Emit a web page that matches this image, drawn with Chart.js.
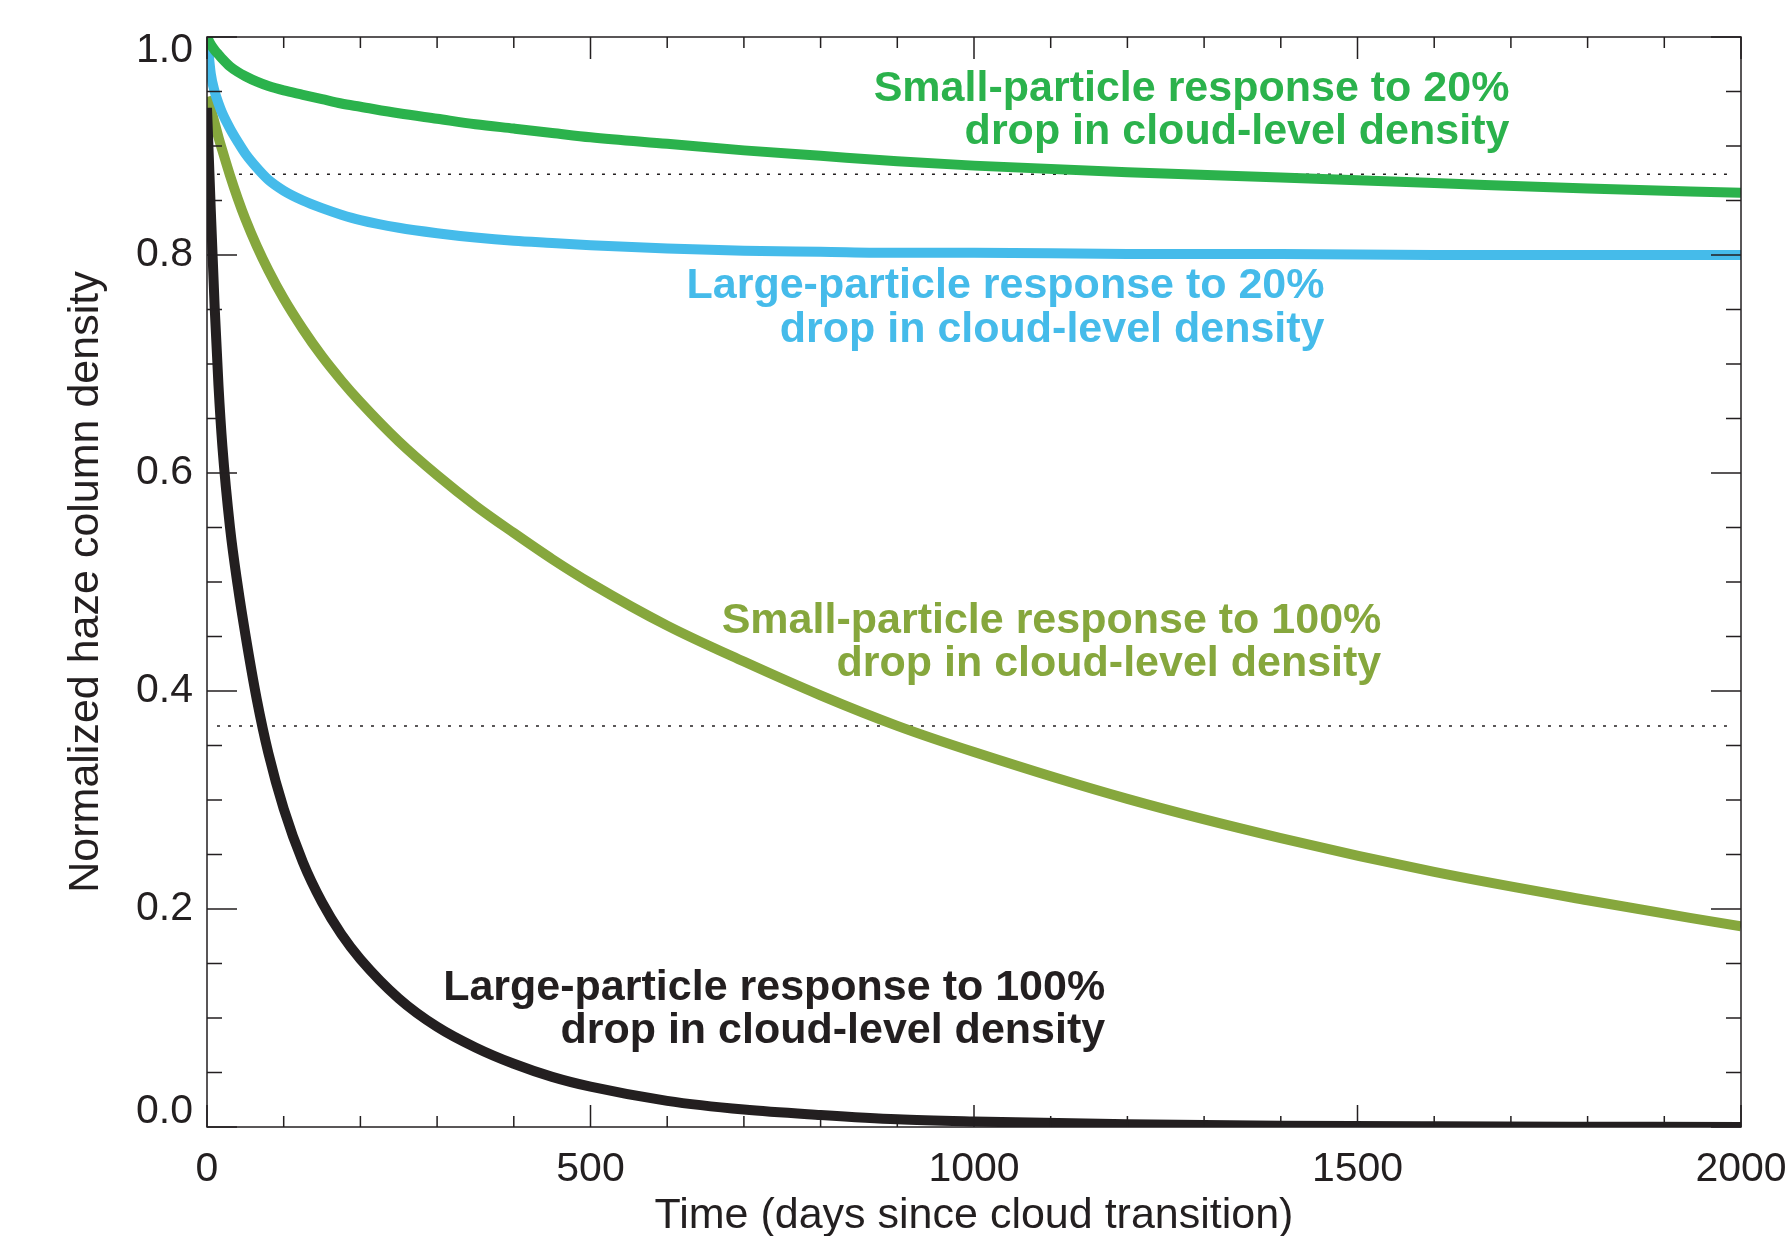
<!DOCTYPE html>
<html>
<head>
<meta charset="utf-8">
<title>Normalized haze column density</title>
<script src="https://cdn.jsdelivr.net/npm/chart.js@4.4.1/dist/chart.umd.min.js"></script>
<style>
  html, body { margin: 0; padding: 0; background: #fff; }
  #wrap { width: 1790px; height: 1236px; }
</style>
</head>
<body>
<div id="wrap"><canvas id="grafica" width="1790" height="1236"></canvas></div>
<script>
// days since the cloud transition where the curves were read
var days = [0, 5, 10, 15, 20, 30, 40, 50, 65, 80, 100, 125, 150, 175, 200, 250, 300, 350, 400, 450, 500, 600, 700, 800, 900, 1000, 1200, 1400, 1600, 1800, 2000];

var smallDrop20  = [1.000, 0.993, 0.988, 0.984, 0.980, 0.973, 0.968, 0.964, 0.959, 0.955, 0.951, 0.947, 0.943, 0.939, 0.936, 0.930, 0.925, 0.920, 0.916, 0.912, 0.908, 0.902, 0.896, 0.891, 0.886, 0.882, 0.876, 0.871, 0.866, 0.861, 0.857];
var largeDrop20  = [1.000, 0.966, 0.950, 0.939, 0.930, 0.916, 0.904, 0.893, 0.880, 0.869, 0.859, 0.850, 0.843, 0.837, 0.832, 0.825, 0.820, 0.816, 0.813, 0.811, 0.809, 0.806, 0.804, 0.803, 0.802, 0.802, 0.801, 0.801, 0.800, 0.800, 0.800];
var smallDrop100 = [0.945, 0.934, 0.921, 0.908, 0.896, 0.873, 0.852, 0.833, 0.808, 0.786, 0.760, 0.732, 0.707, 0.685, 0.665, 0.629, 0.598, 0.570, 0.545, 0.521, 0.499, 0.460, 0.427, 0.396, 0.368, 0.344, 0.301, 0.265, 0.234, 0.208, 0.184];
var largeDrop100 = [0.935, 0.840, 0.752, 0.680, 0.625, 0.550, 0.497, 0.452, 0.392, 0.343, 0.292, 0.243, 0.206, 0.177, 0.154, 0.118, 0.092, 0.073, 0.058, 0.046, 0.037, 0.024, 0.016, 0.011, 0.007, 0.005, 0.0025, 0.0012, 0.0006, 0.0003, 0.0001];

// dotted e-folding levels
var guideLevels = [0.874, 0.368];
var guideDays = [13, 1990];

var xTicks = [0, 500, 1000, 1500, 2000];
var yTicks = [0, 0.2, 0.4, 0.6, 0.8, 1.0];
var yTickLabels = ['0.0', '0.2', '0.4', '0.6', '0.8', '1.0'];

var labelSmall20  = ['Small-particle response to 20%', 'drop in cloud-level density'];
var labelLarge20  = ['Large-particle response to 20%', 'drop in cloud-level density'];
var labelSmall100 = ['Small-particle response to 100%', 'drop in cloud-level density'];
var labelLarge100 = ['Large-particle response to 100%', 'drop in cloud-level density'];

var ink = '#231f20';
var green = '#2bb24c';
var blue = '#45bbea';
var olive = '#86a73d';
var fontName = '"Liberation Sans", Arial, Helvetica, sans-serif';

Chart.defaults.font.family = fontName;
Chart.defaults.color = ink;

function pts(values) {
    return days.map(function (d, i) { return {x: d, y: values[i]}; });
}

function guide(level) {
    return guideDays.map(function (d) { return {x: d, y: level}; });
}

function curve(label, values, color, order) {
    return {
        label: label,
        data: pts(values),
        borderColor: color,
        borderWidth: 10,
        pointRadius: 0,
        fill: false,
        cubicInterpolationMode: 'monotone',
        clip: 0,
        order: order
    };
}

// frame, inward ticks on all four sides, y labels and the curve captions
var marcoPlugin = {
    id: 'marco',
    afterDatasetsDraw: function (chart) {
        var ctx = chart.ctx, a = chart.chartArea;
        var xs = chart.scales.x, ys = chart.scales.y;
        ctx.save();
        ctx.strokeStyle = ink;
        ctx.lineWidth = 1.5;
        ctx.strokeRect(a.left, a.top, a.right - a.left, a.bottom - a.top);

        ctx.beginPath();
        for (var d = xs.min; d <= xs.max; d += 100) {
            var px = xs.getPixelForValue(d);
            var len = xTicks.indexOf(d) >= 0 ? 22 : 11;
            ctx.moveTo(px, a.bottom); ctx.lineTo(px, a.bottom - len);
            ctx.moveTo(px, a.top); ctx.lineTo(px, a.top + len);
        }
        for (var k = 0; k <= 20; k++) {
            var py = ys.getPixelForValue(k * 0.05);
            var ylen = k % 4 === 0 ? 30 : 15;
            ctx.moveTo(a.left, py); ctx.lineTo(a.left + ylen, py);
            ctx.moveTo(a.right, py); ctx.lineTo(a.right - ylen, py);
        }
        ctx.stroke();

        // y tick labels, kept inside the frame at both ends
        ctx.fillStyle = ink;
        ctx.font = '41px ' + fontName;
        ctx.textAlign = 'right';
        ctx.textBaseline = 'middle';
        yTicks.forEach(function (v, i) {
            var y = ys.getPixelForValue(v);
            y = Math.min(Math.max(y, a.top + 14), a.bottom - 15);
            ctx.fillText(yTickLabels[i], a.left - 14, y);
        });

        // captions anchored in data units
        var captions = [
            {lines: labelSmall20, color: green, day: 1698, at: [0.9525, 0.9127]},
            {lines: labelLarge20, color: blue, day: 1457, at: [0.7712, 0.7313]},
            {lines: labelSmall100, color: olive, day: 1531, at: [0.4642, 0.4244]},
            {lines: labelLarge100, color: ink, day: 1171, at: [0.1278, 0.0880]}
        ];
        ctx.font = 'bold 43px ' + fontName;
        captions.forEach(function (c) {
            ctx.fillStyle = c.color;
            c.lines.forEach(function (t, i) {
                ctx.fillText(t, xs.getPixelForValue(c.day), ys.getPixelForValue(c.at[i]));
            });
        });
        ctx.restore();
    }
};

var dotted = {borderColor: ink, borderWidth: 1.5, borderDash: [3, 8], pointRadius: 0, fill: false, order: 9};

new Chart(document.getElementById('grafica'), {
    type: 'line',
    data: {
        datasets: [
            curve('Small-particle, 20% drop', smallDrop20, green, 1),
            curve('Large-particle, 20% drop', largeDrop20, blue, 2),
            curve('Large-particle, 100% drop', largeDrop100, ink, 3),
            curve('Small-particle, 100% drop', smallDrop100, olive, 4),
            Object.assign({label: 'e-fold 20%', data: guide(guideLevels[0])}, dotted),
            Object.assign({label: 'e-fold 100%', data: guide(guideLevels[1])}, dotted)
        ]
    },
    options: {
        responsive: false,
        devicePixelRatio: 1,
        animation: false,
        events: [],
        layout: {padding: {top: 37, right: 49, bottom: 0, left: 0}},
        plugins: {
            legend: {display: false},
            tooltip: {enabled: false}
        },
        scales: {
            x: {
                type: 'linear',
                min: 0,
                max: 2000,
                afterBuildTicks: function (s) { s.ticks = xTicks.map(function (v) { return {value: v}; }); },
                afterFit: function (s) {
                    s.height = 109;
                    s.paddingLeft = 0;
                    s.paddingRight = 0;
                },
                grid: {display: false},
                border: {display: false},
                ticks: {
                    callback: function (v) { return String(v); },
                    font: {size: 41},
                    color: ink,
                    padding: 10,
                    maxRotation: 0,
                    autoSkip: false
                },
                title: {
                    display: true,
                    text: 'Time (days since cloud transition)',
                    font: {size: 43, lineHeight: 1},
                    color: ink,
                    padding: {top: 0, bottom: -2}
                }
            },
            y: {
                type: 'linear',
                min: 0,
                max: 1,
                afterFit: function (s) { s.width = 207; },
                grid: {display: false},
                border: {display: false},
                ticks: {display: false},
                title: {
                    display: true,
                    text: 'Normalized haze column density',
                    font: {size: 43, lineHeight: 1},
                    color: ink,
                    padding: {top: 65, bottom: 0}
                }
            }
        }
    },
    plugins: [marcoPlugin]
});
</script>
</body>
</html>
